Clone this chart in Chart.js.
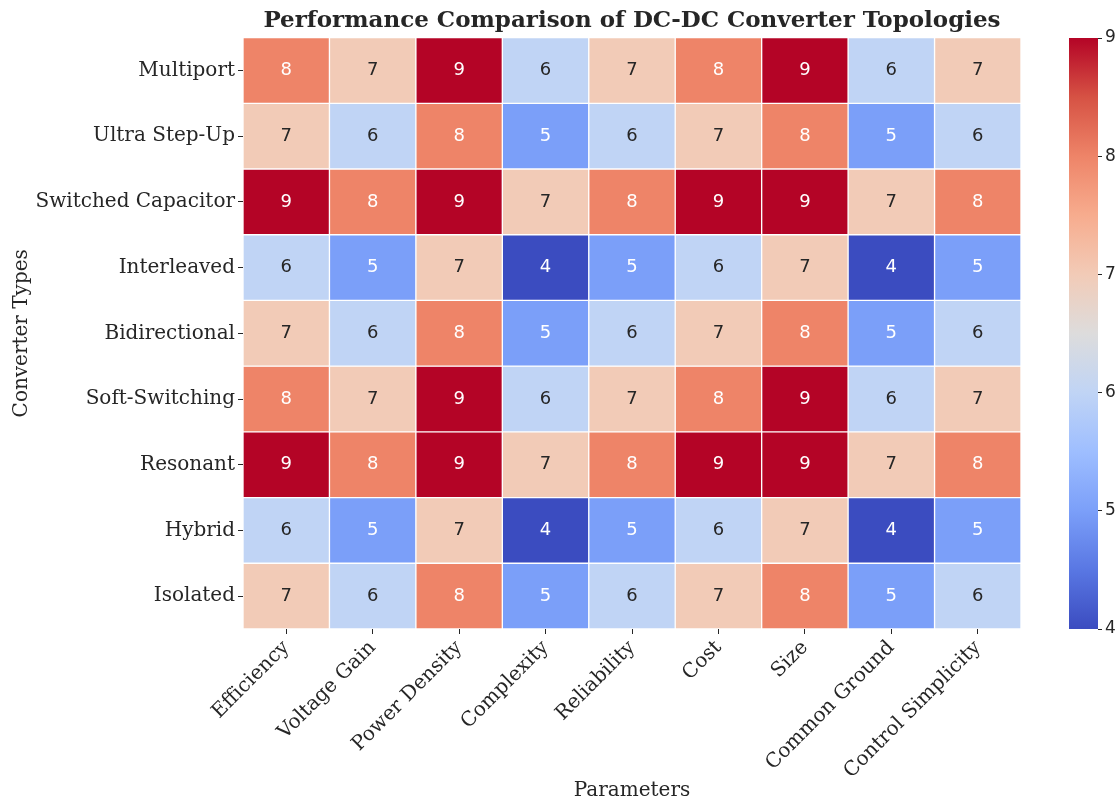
<!DOCTYPE html>
<html>
<head>
<meta charset="utf-8">
<script src="https://cdn.jsdelivr.net/npm/chart.js@4/dist/chart.umd.min.js"></script>
<style>
  html, body { margin: 0; padding: 0; background: #fff; overflow: hidden; }
  #wrap { position: relative; width: 1118px; height: 803px; }
  #heat { position: absolute; left: 0; top: 0; }
  #cbar { position: absolute; left: 1069px; top: 0; }
</style>
</head>
<body>
<div id="wrap">
  <canvas id="heat" width="1118" height="803"></canvas>
  <canvas id="cbar" width="49" height="803"></canvas>
</div>
<script>
const converters = ['Multiport', 'Ultra Step-Up', 'Switched Capacitor', 'Interleaved', 'Bidirectional',
  'Soft-Switching', 'Resonant', 'Hybrid', 'Isolated'];
const parameters = ['Efficiency', 'Voltage Gain', 'Power Density', 'Complexity', 'Reliability',
  'Cost', 'Size', 'Common Ground', 'Control Simplicity'];

const multiport    = [8, 7, 9, 6, 7, 8, 9, 6, 7];
const ultraStepUp  = [7, 6, 8, 5, 6, 7, 8, 5, 6];
const switchedCap  = [9, 8, 9, 7, 8, 9, 9, 7, 8];
const interleaved  = [6, 5, 7, 4, 5, 6, 7, 4, 5];
const bidirect     = [7, 6, 8, 5, 6, 7, 8, 5, 6];
const softSwitch   = [8, 7, 9, 6, 7, 8, 9, 6, 7];
const resonant     = [9, 8, 9, 7, 8, 9, 9, 7, 8];
const hybrid       = [6, 5, 7, 4, 5, 6, 7, 4, 5];
const isolated     = [7, 6, 8, 5, 6, 7, 8, 5, 6];
const values = [multiport, ultraStepUp, switchedCap, interleaved, bidirect, softSwitch, resonant, hybrid, isolated];

const colorTicks = [4, 5, 6, 7, 8, 9];
const vMin = 4, vMax = 9;

// coolwarm colormap stops
const cmap = [
  [0.0, [59, 76, 192]], [0.1, [89, 119, 227]], [0.2, [123, 159, 249]], [0.3, [158, 190, 255]],
  [0.4, [192, 212, 245]], [0.5, [221, 220, 220]], [0.6, [242, 203, 183]], [0.7, [247, 172, 142]],
  [0.8, [238, 132, 104]], [0.9, [214, 82, 68]], [1.0, [180, 4, 38]]
];
function cmapRgb(t) {
  t = Math.max(0, Math.min(1, t));
  for (let i = 1; i < cmap.length; i++) {
    if (t <= cmap[i][0]) {
      const [t0, c0] = cmap[i - 1], [t1, c1] = cmap[i];
      const f = (t - t0) / (t1 - t0);
      return c0.map((c, k) => Math.round(c + (c1[k] - c) * f));
    }
  }
  return cmap[cmap.length - 1][1];
}
const toCss = (c) => `rgb(${c[0]},${c[1]},${c[2]})`;
const colorFor = (v) => toCss(cmapRgb((v - vMin) / (vMax - vMin)));
const textFor = (v) => {
  const c = cmapRgb((v - vMin) / (vMax - vMin)).map(x => {
    x /= 255; return x <= 0.03928 ? x / 12.92 : Math.pow((x + 0.055) / 1.055, 2.4);
  });
  const lum = 0.2126 * c[0] + 0.7152 * c[1] + 0.0722 * c[2];
  return lum > 0.408 ? '#262626' : '#ffffff';
};

const ink = '#262626';
const serif = 'DejaVu Serif';

// one dataset per converter row, each cell a floating bar [row, row+1]
const datasets = converters.map((name, i) => ({
  label: name,
  stack: 'heat',
  data: parameters.map(() => [i, i + 1]),
  backgroundColor: values[i].map(colorFor),
  borderColor: '#ffffff',
  borderWidth: 1,
  borderSkipped: false,
  barPercentage: 1,
  categoryPercentage: 1
}));

const cellLabels = {
  id: 'cellLabels',
  afterDatasetsDraw(chart) {
    const ctx = chart.ctx;
    ctx.save();
    ctx.font = '18px "DejaVu Sans"';
    ctx.textAlign = 'center';
    ctx.textBaseline = 'middle';
    chart.data.datasets.forEach((ds, i) => {
      chart.getDatasetMeta(i).data.forEach((bar, j) => {
        const v = values[i][j];
        ctx.fillStyle = textFor(v);
        ctx.fillText(String(v), bar.x, (bar.y + bar.base) / 2);
      });
    });
    ctx.restore();
  }
};

new Chart(document.getElementById('heat'), {
  type: 'bar',
  data: { labels: parameters, datasets },
  plugins: [cellLabels],
  options: {
    responsive: false,
    animation: false,
    layout: { padding: { left: 8, right: 97, top: 0, bottom: 0 } },
    plugins: {
      legend: { display: false },
      tooltip: { enabled: false },
      title: {
        display: true,
        fullSize: false,
        text: 'Performance Comparison of DC-DC Converter Topologies',
        color: ink,
        font: { family: serif, size: 23, weight: 'bold' },
        padding: { top: 7, bottom: 3 }
      }
    },
    scales: {
      x: {
        stacked: true,
        border: { display: false },
        grid: { drawOnChartArea: false, offset: false, tickLength: 5, color: ink },
        ticks: {
          color: ink, font: { family: serif, size: 20 },
          minRotation: 45, maxRotation: 45, autoSkip: false, padding: 2
        },
        title: {
          display: true, text: 'Parameters', color: ink,
          font: { family: serif, size: 20 }, padding: { top: 0, bottom: 0 }
        },
        afterFit(scale) { scale.height = 174; }
      },
      y: {
        type: 'linear',
        stacked: false,
        min: 0, max: 9,
        reverse: true,
        border: { display: false },
        grid: { drawOnChartArea: false, tickLength: 5, color: ink },
        afterBuildTicks(scale) {
          scale.ticks = converters.map((_, i) => ({ value: i + 0.5 }));
        },
        ticks: {
          color: ink, font: { family: serif, size: 20 }, autoSkip: false, padding: 3,
          callback: (v) => converters[Math.floor(v)]
        },
        title: {
          display: true, text: 'Converter Types', color: ink,
          font: { family: serif, size: 20 }, padding: { top: 2, bottom: 0 }
        },
        afterFit(scale) { scale.width = 235; }
      }
    }
  }
});

// colorbar
new Chart(document.getElementById('cbar'), {
  type: 'bar',
  data: {
    labels: [''],
    datasets: [{
      data: [[vMin, vMax]],
      barPercentage: 1,
      categoryPercentage: 1,
      borderWidth: 0,
      backgroundColor(ctx) {
        const area = ctx.chart.chartArea;
        if (!area) return null;
        const g = ctx.chart.ctx.createLinearGradient(0, area.bottom, 0, area.top);
        cmap.forEach(([t, c]) => g.addColorStop(t, toCss(c)));
        return g;
      }
    }]
  },
  options: {
    responsive: false,
    animation: false,
    layout: { padding: { left: 0, right: 0, top: 38, bottom: 174 } },
    plugins: { legend: { display: false }, tooltip: { enabled: false } },
    scales: {
      x: { display: false },
      y: {
        position: 'right',
        min: vMin, max: vMax,
        border: { display: false },
        grid: { drawOnChartArea: false, tickLength: 4, color: ink },
        afterBuildTicks(scale) { scale.ticks = colorTicks.map(v => ({ value: v })); },
        ticks: { color: ink, font: { family: 'DejaVu Sans', size: 17 }, padding: 3 },
        afterFit(scale) { scale.width = 20; }
      }
    }
  }
});
</script>
</body>
</html>
